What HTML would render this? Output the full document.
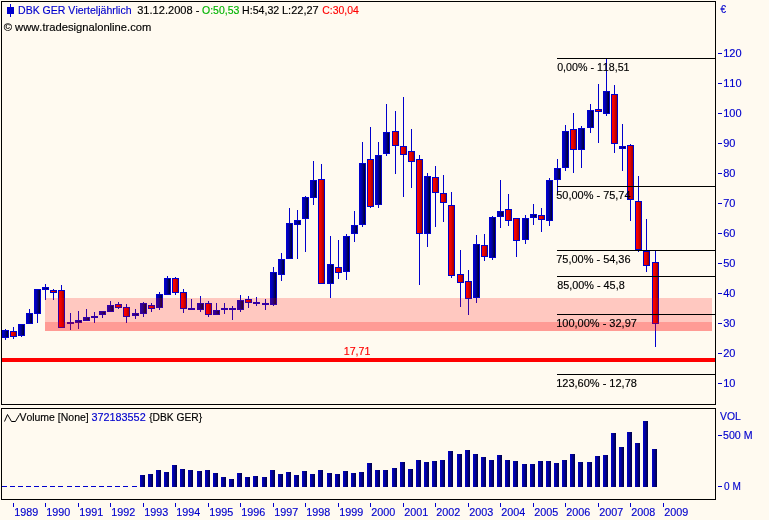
<!DOCTYPE html>
<html lang="de"><head><meta charset="utf-8"><title>DBK GER Vierteljährlich</title>
<style>html,body{margin:0;padding:0;background:#FFFAF0;}svg{display:block;}text{font-family:"Liberation Sans",Arial,sans-serif;font-size:11px;font-kerning:none;}</style>
</head><body>
<svg width="769" height="520" viewBox="0 0 769 520">
<defs>
<linearGradient id="gb" x1="0" x2="1" y1="0" y2="0"><stop offset="0" stop-color="#0000CC"/><stop offset="0.35" stop-color="#0000A8"/><stop offset="1" stop-color="#000028"/></linearGradient>
<linearGradient id="gr" x1="0" x2="1" y1="0" y2="0"><stop offset="0" stop-color="#FF0000"/><stop offset="0.4" stop-color="#EE0000"/><stop offset="1" stop-color="#990000"/></linearGradient>
<linearGradient id="gv" x1="0" x2="1" y1="0" y2="0"><stop offset="0" stop-color="#0000CC"/><stop offset="0.4" stop-color="#0000A0"/><stop offset="1" stop-color="#000040"/></linearGradient>
</defs>
<rect x="0" y="0" width="769" height="520" fill="#FFFAF0"/>
<g shape-rendering="crispEdges">
<rect x="5" y="329" width="1" height="11" fill="#0000CD"/>
<rect x="2" y="330" width="7" height="8" fill="#0000CD"/>
<rect x="3" y="331" width="5" height="6" fill="url(#gb)"/>
<rect x="13" y="327" width="1" height="12" fill="#0000CD"/>
<rect x="10" y="331" width="7" height="6" fill="#0000CD"/>
<rect x="11" y="332" width="5" height="4" fill="url(#gr)"/>
<rect x="21" y="324" width="1" height="13" fill="#0000CD"/>
<rect x="18" y="324" width="7" height="12" fill="#0000CD"/>
<rect x="19" y="325" width="5" height="10" fill="url(#gb)"/>
<rect x="29" y="309" width="1" height="15" fill="#0000CD"/>
<rect x="26" y="313" width="7" height="11" fill="#0000CD"/>
<rect x="27" y="314" width="5" height="9" fill="url(#gb)"/>
<rect x="37" y="289" width="1" height="34" fill="#0000CD"/>
<rect x="34" y="289" width="7" height="25" fill="#0000CD"/>
<rect x="35" y="290" width="5" height="23" fill="url(#gb)"/>
<rect x="45" y="284" width="1" height="16" fill="#0000CD"/>
<rect x="42" y="287" width="7" height="3" fill="#0000CD"/>
<rect x="43" y="288" width="5" height="1" fill="url(#gb)"/>
<rect x="53" y="289" width="1" height="11" fill="#0000CD"/>
<rect x="50" y="290" width="7" height="3" fill="#0000CD"/>
<rect x="51" y="291" width="5" height="1" fill="url(#gr)"/>
<rect x="61" y="285" width="1" height="43" fill="#0000CD"/>
<rect x="58" y="290" width="7" height="38" fill="#0000CD"/>
<rect x="59" y="291" width="5" height="36" fill="url(#gr)"/>
<rect x="70" y="313" width="1" height="17" fill="#0000CD"/>
<rect x="67" y="322" width="7" height="2" fill="#0000CD"/>
<rect x="78" y="311" width="1" height="18" fill="#0000CD"/>
<rect x="75" y="320" width="7" height="3" fill="#0000CD"/>
<rect x="76" y="321" width="5" height="1" fill="url(#gb)"/>
<rect x="86" y="309" width="1" height="12" fill="#0000CD"/>
<rect x="83" y="317" width="7" height="4" fill="#0000CD"/>
<rect x="84" y="318" width="5" height="2" fill="url(#gb)"/>
<rect x="94" y="312" width="1" height="11" fill="#0000CD"/>
<rect x="91" y="316" width="7" height="2" fill="#0000CD"/>
<rect x="102" y="311" width="1" height="7" fill="#0000CD"/>
<rect x="99" y="311" width="7" height="4" fill="#0000CD"/>
<rect x="100" y="312" width="5" height="2" fill="url(#gb)"/>
<rect x="110" y="301" width="1" height="11" fill="#0000CD"/>
<rect x="107" y="305" width="7" height="7" fill="#0000CD"/>
<rect x="108" y="306" width="5" height="5" fill="url(#gb)"/>
<rect x="118" y="302" width="1" height="7" fill="#0000CD"/>
<rect x="115" y="304" width="7" height="4" fill="#0000CD"/>
<rect x="116" y="305" width="5" height="2" fill="url(#gr)"/>
<rect x="126" y="304" width="1" height="19" fill="#0000CD"/>
<rect x="123" y="307" width="7" height="10" fill="#0000CD"/>
<rect x="124" y="308" width="5" height="8" fill="url(#gr)"/>
<rect x="135" y="309" width="1" height="10" fill="#0000CD"/>
<rect x="132" y="313" width="7" height="3" fill="#0000CD"/>
<rect x="133" y="314" width="5" height="1" fill="url(#gb)"/>
<rect x="143" y="302" width="1" height="15" fill="#0000CD"/>
<rect x="140" y="303" width="7" height="11" fill="#0000CD"/>
<rect x="141" y="304" width="5" height="9" fill="url(#gb)"/>
<rect x="151" y="303" width="1" height="9" fill="#0000CD"/>
<rect x="148" y="305" width="7" height="4" fill="#0000CD"/>
<rect x="149" y="306" width="5" height="2" fill="url(#gr)"/>
<rect x="159" y="292" width="1" height="18" fill="#0000CD"/>
<rect x="156" y="294" width="7" height="14" fill="#0000CD"/>
<rect x="157" y="295" width="5" height="12" fill="url(#gb)"/>
<rect x="167" y="276" width="1" height="19" fill="#0000CD"/>
<rect x="164" y="278" width="7" height="17" fill="#0000CD"/>
<rect x="165" y="279" width="5" height="15" fill="url(#gb)"/>
<rect x="175" y="277" width="1" height="18" fill="#0000CD"/>
<rect x="172" y="278" width="7" height="15" fill="#0000CD"/>
<rect x="173" y="279" width="5" height="13" fill="url(#gr)"/>
<rect x="183" y="289" width="1" height="24" fill="#0000CD"/>
<rect x="180" y="292" width="7" height="17" fill="#0000CD"/>
<rect x="181" y="293" width="5" height="15" fill="url(#gr)"/>
<rect x="191" y="299" width="1" height="11" fill="#0000CD"/>
<rect x="188" y="308" width="7" height="2" fill="#0000CD"/>
<rect x="200" y="296" width="1" height="16" fill="#0000CD"/>
<rect x="197" y="303" width="7" height="7" fill="#0000CD"/>
<rect x="198" y="304" width="5" height="5" fill="url(#gb)"/>
<rect x="208" y="301" width="1" height="16" fill="#0000CD"/>
<rect x="205" y="303" width="7" height="12" fill="#0000CD"/>
<rect x="206" y="304" width="5" height="10" fill="url(#gr)"/>
<rect x="216" y="303" width="1" height="12" fill="#0000CD"/>
<rect x="213" y="310" width="7" height="5" fill="#0000CD"/>
<rect x="214" y="311" width="5" height="3" fill="url(#gb)"/>
<rect x="224" y="303" width="1" height="11" fill="#0000CD"/>
<rect x="221" y="308" width="7" height="2" fill="#0000CD"/>
<rect x="232" y="306" width="1" height="14" fill="#0000CD"/>
<rect x="229" y="308" width="7" height="2" fill="#0000CD"/>
<rect x="240" y="295" width="1" height="17" fill="#0000CD"/>
<rect x="237" y="300" width="7" height="10" fill="#0000CD"/>
<rect x="238" y="301" width="5" height="8" fill="url(#gb)"/>
<rect x="248" y="296" width="1" height="12" fill="#0000CD"/>
<rect x="245" y="299" width="7" height="4" fill="#0000CD"/>
<rect x="246" y="300" width="5" height="2" fill="url(#gr)"/>
<rect x="256" y="297" width="1" height="9" fill="#0000CD"/>
<rect x="253" y="302" width="7" height="2" fill="#0000CD"/>
<rect x="265" y="299" width="1" height="11" fill="#0000CD"/>
<rect x="262" y="303" width="7" height="2" fill="#0000CD"/>
<rect x="273" y="267" width="1" height="39" fill="#0000CD"/>
<rect x="270" y="272" width="7" height="33" fill="#0000CD"/>
<rect x="271" y="273" width="5" height="31" fill="url(#gb)"/>
<rect x="281" y="253" width="1" height="28" fill="#0000CD"/>
<rect x="278" y="259" width="7" height="16" fill="#0000CD"/>
<rect x="279" y="260" width="5" height="14" fill="url(#gb)"/>
<rect x="289" y="208" width="1" height="51" fill="#0000CD"/>
<rect x="286" y="223" width="7" height="36" fill="#0000CD"/>
<rect x="287" y="224" width="5" height="34" fill="url(#gb)"/>
<rect x="297" y="210" width="1" height="49" fill="#0000CD"/>
<rect x="294" y="220" width="7" height="5" fill="#0000CD"/>
<rect x="295" y="221" width="5" height="3" fill="url(#gb)"/>
<rect x="305" y="196" width="1" height="56" fill="#0000CD"/>
<rect x="302" y="197" width="7" height="22" fill="#0000CD"/>
<rect x="303" y="198" width="5" height="20" fill="url(#gb)"/>
<rect x="313" y="161" width="1" height="44" fill="#0000CD"/>
<rect x="310" y="180" width="7" height="18" fill="#0000CD"/>
<rect x="311" y="181" width="5" height="16" fill="url(#gb)"/>
<rect x="321" y="164" width="1" height="120" fill="#0000CD"/>
<rect x="318" y="179" width="7" height="105" fill="#0000CD"/>
<rect x="319" y="180" width="5" height="103" fill="url(#gr)"/>
<rect x="330" y="236" width="1" height="62" fill="#0000CD"/>
<rect x="327" y="264" width="7" height="20" fill="#0000CD"/>
<rect x="328" y="265" width="5" height="18" fill="url(#gb)"/>
<rect x="338" y="240" width="1" height="39" fill="#0000CD"/>
<rect x="335" y="267" width="7" height="6" fill="#0000CD"/>
<rect x="336" y="268" width="5" height="4" fill="url(#gr)"/>
<rect x="346" y="234" width="1" height="46" fill="#0000CD"/>
<rect x="343" y="236" width="7" height="36" fill="#0000CD"/>
<rect x="344" y="237" width="5" height="34" fill="url(#gb)"/>
<rect x="354" y="211" width="1" height="31" fill="#0000CD"/>
<rect x="351" y="225" width="7" height="9" fill="#0000CD"/>
<rect x="352" y="226" width="5" height="7" fill="url(#gb)"/>
<rect x="362" y="142" width="1" height="85" fill="#0000CD"/>
<rect x="359" y="163" width="7" height="62" fill="#0000CD"/>
<rect x="360" y="164" width="5" height="60" fill="url(#gb)"/>
<rect x="370" y="127" width="1" height="81" fill="#0000CD"/>
<rect x="367" y="159" width="7" height="48" fill="#0000CD"/>
<rect x="368" y="160" width="5" height="46" fill="url(#gr)"/>
<rect x="378" y="142" width="1" height="66" fill="#0000CD"/>
<rect x="375" y="155" width="7" height="50" fill="#0000CD"/>
<rect x="376" y="156" width="5" height="48" fill="url(#gb)"/>
<rect x="386" y="104" width="1" height="52" fill="#0000CD"/>
<rect x="383" y="132" width="7" height="22" fill="#0000CD"/>
<rect x="384" y="133" width="5" height="20" fill="url(#gb)"/>
<rect x="395" y="111" width="1" height="63" fill="#0000CD"/>
<rect x="392" y="131" width="7" height="15" fill="#0000CD"/>
<rect x="393" y="132" width="5" height="13" fill="url(#gr)"/>
<rect x="403" y="97" width="1" height="100" fill="#0000CD"/>
<rect x="400" y="146" width="7" height="9" fill="#0000CD"/>
<rect x="401" y="147" width="5" height="7" fill="url(#gr)"/>
<rect x="411" y="129" width="1" height="59" fill="#0000CD"/>
<rect x="408" y="151" width="7" height="11" fill="#0000CD"/>
<rect x="409" y="152" width="5" height="9" fill="url(#gr)"/>
<rect x="419" y="155" width="1" height="130" fill="#0000CD"/>
<rect x="416" y="159" width="7" height="75" fill="#0000CD"/>
<rect x="417" y="160" width="5" height="73" fill="url(#gr)"/>
<rect x="427" y="173" width="1" height="74" fill="#0000CD"/>
<rect x="424" y="176" width="7" height="58" fill="#0000CD"/>
<rect x="425" y="177" width="5" height="56" fill="url(#gb)"/>
<rect x="435" y="166" width="1" height="61" fill="#0000CD"/>
<rect x="432" y="177" width="7" height="16" fill="#0000CD"/>
<rect x="433" y="178" width="5" height="14" fill="url(#gr)"/>
<rect x="443" y="175" width="1" height="47" fill="#0000CD"/>
<rect x="440" y="193" width="7" height="10" fill="#0000CD"/>
<rect x="441" y="194" width="5" height="8" fill="url(#gr)"/>
<rect x="451" y="192" width="1" height="86" fill="#0000CD"/>
<rect x="448" y="205" width="7" height="71" fill="#0000CD"/>
<rect x="449" y="206" width="5" height="69" fill="url(#gr)"/>
<rect x="460" y="250" width="1" height="57" fill="#0000CD"/>
<rect x="457" y="274" width="7" height="9" fill="#0000CD"/>
<rect x="458" y="275" width="5" height="7" fill="url(#gr)"/>
<rect x="468" y="270" width="1" height="45" fill="#0000CD"/>
<rect x="465" y="281" width="7" height="18" fill="#0000CD"/>
<rect x="466" y="282" width="5" height="16" fill="url(#gr)"/>
<rect x="476" y="235" width="1" height="68" fill="#0000CD"/>
<rect x="473" y="244" width="7" height="54" fill="#0000CD"/>
<rect x="474" y="245" width="5" height="52" fill="url(#gb)"/>
<rect x="484" y="234" width="1" height="27" fill="#0000CD"/>
<rect x="481" y="245" width="7" height="12" fill="#0000CD"/>
<rect x="482" y="246" width="5" height="10" fill="url(#gr)"/>
<rect x="492" y="216" width="1" height="44" fill="#0000CD"/>
<rect x="489" y="217" width="7" height="41" fill="#0000CD"/>
<rect x="490" y="218" width="5" height="39" fill="url(#gb)"/>
<rect x="500" y="180" width="1" height="48" fill="#0000CD"/>
<rect x="497" y="211" width="7" height="6" fill="#0000CD"/>
<rect x="498" y="212" width="5" height="4" fill="url(#gb)"/>
<rect x="508" y="194" width="1" height="32" fill="#0000CD"/>
<rect x="505" y="209" width="7" height="12" fill="#0000CD"/>
<rect x="506" y="210" width="5" height="10" fill="url(#gr)"/>
<rect x="516" y="218" width="1" height="39" fill="#0000CD"/>
<rect x="513" y="218" width="7" height="23" fill="#0000CD"/>
<rect x="514" y="219" width="5" height="21" fill="url(#gr)"/>
<rect x="525" y="215" width="1" height="29" fill="#0000CD"/>
<rect x="522" y="218" width="7" height="22" fill="#0000CD"/>
<rect x="523" y="219" width="5" height="20" fill="url(#gb)"/>
<rect x="533" y="204" width="1" height="21" fill="#0000CD"/>
<rect x="530" y="214" width="7" height="4" fill="#0000CD"/>
<rect x="531" y="215" width="5" height="2" fill="url(#gb)"/>
<rect x="541" y="208" width="1" height="24" fill="#0000CD"/>
<rect x="538" y="215" width="7" height="5" fill="#0000CD"/>
<rect x="539" y="216" width="5" height="3" fill="url(#gr)"/>
<rect x="549" y="178" width="1" height="48" fill="#0000CD"/>
<rect x="546" y="180" width="7" height="41" fill="#0000CD"/>
<rect x="547" y="181" width="5" height="39" fill="url(#gb)"/>
<rect x="557" y="159" width="1" height="34" fill="#0000CD"/>
<rect x="554" y="168" width="7" height="12" fill="#0000CD"/>
<rect x="555" y="169" width="5" height="10" fill="url(#gb)"/>
<rect x="565" y="125" width="1" height="46" fill="#0000CD"/>
<rect x="562" y="131" width="7" height="37" fill="#0000CD"/>
<rect x="563" y="132" width="5" height="35" fill="url(#gb)"/>
<rect x="573" y="113" width="1" height="60" fill="#0000CD"/>
<rect x="570" y="129" width="7" height="21" fill="#0000CD"/>
<rect x="571" y="130" width="5" height="19" fill="url(#gr)"/>
<rect x="581" y="126" width="1" height="42" fill="#0000CD"/>
<rect x="578" y="128" width="7" height="22" fill="#0000CD"/>
<rect x="579" y="129" width="5" height="20" fill="url(#gb)"/>
<rect x="590" y="104" width="1" height="29" fill="#0000CD"/>
<rect x="587" y="110" width="7" height="18" fill="#0000CD"/>
<rect x="588" y="111" width="5" height="16" fill="url(#gb)"/>
<rect x="598" y="84" width="1" height="59" fill="#0000CD"/>
<rect x="595" y="109" width="7" height="3" fill="#0000CD"/>
<rect x="596" y="110" width="5" height="1" fill="url(#gr)"/>
<rect x="606" y="59" width="1" height="57" fill="#0000CD"/>
<rect x="603" y="91" width="7" height="23" fill="#0000CD"/>
<rect x="604" y="92" width="5" height="21" fill="url(#gb)"/>
<rect x="614" y="85" width="1" height="68" fill="#0000CD"/>
<rect x="611" y="94" width="7" height="50" fill="#0000CD"/>
<rect x="612" y="95" width="5" height="48" fill="url(#gr)"/>
<rect x="622" y="124" width="1" height="47" fill="#0000CD"/>
<rect x="619" y="146" width="7" height="3" fill="#0000CD"/>
<rect x="620" y="147" width="5" height="1" fill="url(#gb)"/>
<rect x="630" y="144" width="1" height="77" fill="#0000CD"/>
<rect x="627" y="145" width="7" height="55" fill="#0000CD"/>
<rect x="628" y="146" width="5" height="53" fill="url(#gr)"/>
<rect x="638" y="176" width="1" height="76" fill="#0000CD"/>
<rect x="635" y="201" width="7" height="49" fill="#0000CD"/>
<rect x="636" y="202" width="5" height="47" fill="url(#gr)"/>
<rect x="646" y="219" width="1" height="53" fill="#0000CD"/>
<rect x="643" y="251" width="7" height="15" fill="#0000CD"/>
<rect x="644" y="252" width="5" height="13" fill="url(#gr)"/>
<rect x="655" y="251" width="1" height="96" fill="#0000CD"/>
<rect x="652" y="262" width="7" height="62" fill="#0000CD"/>
<rect x="653" y="263" width="5" height="60" fill="url(#gr)"/>
<rect x="45" y="298" width="667" height="24" fill="#FF0000" fill-opacity="0.2"/>
<rect x="45" y="322" width="667" height="9" fill="#FF0000" fill-opacity="0.38"/>
<rect x="557" y="58" width="158" height="1" fill="#000"/>
<rect x="557" y="186" width="158" height="1" fill="#000"/>
<rect x="557" y="250" width="158" height="1" fill="#000"/>
<rect x="557" y="276" width="158" height="1" fill="#000"/>
<rect x="557" y="314" width="158" height="1" fill="#000"/>
<rect x="557" y="374" width="158" height="1" fill="#000"/>
<rect x="2" y="358" width="714" height="4" fill="#FF0000"/>
<rect x="140" y="475" width="5" height="12" fill="url(#gv)"/>
<rect x="148" y="474" width="5" height="13" fill="url(#gv)"/>
<rect x="156" y="470" width="5" height="17" fill="url(#gv)"/>
<rect x="164" y="472" width="5" height="15" fill="url(#gv)"/>
<rect x="172" y="465" width="5" height="22" fill="url(#gv)"/>
<rect x="180" y="469" width="5" height="18" fill="url(#gv)"/>
<rect x="188" y="470" width="5" height="17" fill="url(#gv)"/>
<rect x="197" y="471" width="5" height="16" fill="url(#gv)"/>
<rect x="205" y="470" width="5" height="17" fill="url(#gv)"/>
<rect x="213" y="473" width="5" height="14" fill="url(#gv)"/>
<rect x="221" y="477" width="5" height="10" fill="url(#gv)"/>
<rect x="229" y="479" width="5" height="8" fill="url(#gv)"/>
<rect x="237" y="473" width="5" height="14" fill="url(#gv)"/>
<rect x="245" y="477" width="5" height="10" fill="url(#gv)"/>
<rect x="253" y="476" width="5" height="11" fill="url(#gv)"/>
<rect x="262" y="477" width="5" height="10" fill="url(#gv)"/>
<rect x="270" y="470" width="5" height="17" fill="url(#gv)"/>
<rect x="278" y="474" width="5" height="13" fill="url(#gv)"/>
<rect x="286" y="472" width="5" height="15" fill="url(#gv)"/>
<rect x="294" y="475" width="5" height="12" fill="url(#gv)"/>
<rect x="302" y="471" width="5" height="16" fill="url(#gv)"/>
<rect x="310" y="474" width="5" height="13" fill="url(#gv)"/>
<rect x="318" y="470" width="5" height="17" fill="url(#gv)"/>
<rect x="327" y="473" width="5" height="14" fill="url(#gv)"/>
<rect x="335" y="474" width="5" height="13" fill="url(#gv)"/>
<rect x="343" y="471" width="5" height="16" fill="url(#gv)"/>
<rect x="351" y="473" width="5" height="14" fill="url(#gv)"/>
<rect x="359" y="472" width="5" height="15" fill="url(#gv)"/>
<rect x="367" y="463" width="5" height="24" fill="url(#gv)"/>
<rect x="375" y="470" width="5" height="17" fill="url(#gv)"/>
<rect x="383" y="470" width="5" height="17" fill="url(#gv)"/>
<rect x="392" y="468" width="5" height="19" fill="url(#gv)"/>
<rect x="400" y="462" width="5" height="25" fill="url(#gv)"/>
<rect x="408" y="469" width="5" height="18" fill="url(#gv)"/>
<rect x="416" y="460" width="5" height="27" fill="url(#gv)"/>
<rect x="424" y="462" width="5" height="25" fill="url(#gv)"/>
<rect x="432" y="461" width="5" height="26" fill="url(#gv)"/>
<rect x="440" y="460" width="5" height="27" fill="url(#gv)"/>
<rect x="448" y="451" width="5" height="36" fill="url(#gv)"/>
<rect x="457" y="454" width="5" height="33" fill="url(#gv)"/>
<rect x="465" y="450" width="5" height="37" fill="url(#gv)"/>
<rect x="473" y="454" width="5" height="33" fill="url(#gv)"/>
<rect x="481" y="457" width="5" height="30" fill="url(#gv)"/>
<rect x="489" y="460" width="5" height="27" fill="url(#gv)"/>
<rect x="497" y="455" width="5" height="32" fill="url(#gv)"/>
<rect x="505" y="460" width="5" height="27" fill="url(#gv)"/>
<rect x="513" y="461" width="5" height="26" fill="url(#gv)"/>
<rect x="522" y="464" width="5" height="23" fill="url(#gv)"/>
<rect x="530" y="464" width="5" height="23" fill="url(#gv)"/>
<rect x="538" y="461" width="5" height="26" fill="url(#gv)"/>
<rect x="546" y="461" width="5" height="26" fill="url(#gv)"/>
<rect x="554" y="463" width="5" height="24" fill="url(#gv)"/>
<rect x="562" y="460" width="5" height="27" fill="url(#gv)"/>
<rect x="570" y="454" width="5" height="33" fill="url(#gv)"/>
<rect x="578" y="462" width="5" height="25" fill="url(#gv)"/>
<rect x="587" y="462" width="5" height="25" fill="url(#gv)"/>
<rect x="595" y="456" width="5" height="31" fill="url(#gv)"/>
<rect x="603" y="455" width="5" height="32" fill="url(#gv)"/>
<rect x="611" y="433" width="5" height="54" fill="url(#gv)"/>
<rect x="619" y="447" width="5" height="40" fill="url(#gv)"/>
<rect x="627" y="432" width="5" height="55" fill="url(#gv)"/>
<rect x="635" y="443" width="5" height="44" fill="url(#gv)"/>
<rect x="643" y="421" width="5" height="66" fill="url(#gv)"/>
<rect x="652" y="449" width="5" height="38" fill="url(#gv)"/>
<rect x="2" y="486" width="5" height="1" fill="#0000CD"/>
<rect x="10" y="486" width="5" height="1" fill="#0000CD"/>
<rect x="18" y="486" width="5" height="1" fill="#0000CD"/>
<rect x="26" y="486" width="5" height="1" fill="#0000CD"/>
<rect x="34" y="486" width="5" height="1" fill="#0000CD"/>
<rect x="42" y="486" width="5" height="1" fill="#0000CD"/>
<rect x="50" y="486" width="5" height="1" fill="#0000CD"/>
<rect x="58" y="486" width="5" height="1" fill="#0000CD"/>
<rect x="67" y="486" width="5" height="1" fill="#0000CD"/>
<rect x="75" y="486" width="5" height="1" fill="#0000CD"/>
<rect x="83" y="486" width="5" height="1" fill="#0000CD"/>
<rect x="91" y="486" width="5" height="1" fill="#0000CD"/>
<rect x="99" y="486" width="5" height="1" fill="#0000CD"/>
<rect x="107" y="486" width="5" height="1" fill="#0000CD"/>
<rect x="115" y="486" width="5" height="1" fill="#0000CD"/>
<rect x="123" y="486" width="5" height="1" fill="#0000CD"/>
<rect x="132" y="486" width="5" height="1" fill="#0000CD"/>
<rect x="1.5" y="1.5" width="714" height="403" fill="none" stroke="#000" stroke-width="1"/>
<rect x="1.5" y="408.5" width="714" height="91" fill="none" stroke="#000" stroke-width="1"/>
<rect x="718" y="383" width="4" height="1" fill="#0000CD"/>
<rect x="718" y="353" width="4" height="1" fill="#0000CD"/>
<rect x="718" y="323" width="4" height="1" fill="#0000CD"/>
<rect x="718" y="293" width="4" height="1" fill="#0000CD"/>
<rect x="718" y="263" width="4" height="1" fill="#0000CD"/>
<rect x="718" y="233" width="4" height="1" fill="#0000CD"/>
<rect x="718" y="203" width="4" height="1" fill="#0000CD"/>
<rect x="718" y="173" width="4" height="1" fill="#0000CD"/>
<rect x="718" y="143" width="4" height="1" fill="#0000CD"/>
<rect x="718" y="113" width="4" height="1" fill="#0000CD"/>
<rect x="718" y="83" width="4" height="1" fill="#0000CD"/>
<rect x="718" y="53" width="4" height="1" fill="#0000CD"/>
<rect x="718" y="435" width="4" height="1" fill="#0000CD"/>
<rect x="718" y="486" width="4" height="1" fill="#0000CD"/>
<rect x="13" y="503" width="1" height="4" fill="#0000CD"/>
<rect x="45" y="503" width="1" height="4" fill="#0000CD"/>
<rect x="78" y="503" width="1" height="4" fill="#0000CD"/>
<rect x="110" y="503" width="1" height="4" fill="#0000CD"/>
<rect x="143" y="503" width="1" height="4" fill="#0000CD"/>
<rect x="175" y="503" width="1" height="4" fill="#0000CD"/>
<rect x="208" y="503" width="1" height="4" fill="#0000CD"/>
<rect x="240" y="503" width="1" height="4" fill="#0000CD"/>
<rect x="273" y="503" width="1" height="4" fill="#0000CD"/>
<rect x="305" y="503" width="1" height="4" fill="#0000CD"/>
<rect x="338" y="503" width="1" height="4" fill="#0000CD"/>
<rect x="370" y="503" width="1" height="4" fill="#0000CD"/>
<rect x="403" y="503" width="1" height="4" fill="#0000CD"/>
<rect x="435" y="503" width="1" height="4" fill="#0000CD"/>
<rect x="468" y="503" width="1" height="4" fill="#0000CD"/>
<rect x="500" y="503" width="1" height="4" fill="#0000CD"/>
<rect x="533" y="503" width="1" height="4" fill="#0000CD"/>
<rect x="565" y="503" width="1" height="4" fill="#0000CD"/>
<rect x="598" y="503" width="1" height="4" fill="#0000CD"/>
<rect x="630" y="503" width="1" height="4" fill="#0000CD"/>
<rect x="663" y="503" width="1" height="4" fill="#0000CD"/>
<rect x="10" y="4" width="1" height="13" fill="#0000CD"/>
<rect x="7" y="7" width="7" height="7" fill="#0000CD"/>
</g>
<polyline points="4.5,421.5 7.5,414.5 11.5,421.5 15.5,421.5 19.5,414.5" fill="none" stroke="#000" stroke-width="1"/>
<text x="18.04" y="14" fill="#0000CD" stroke="#0000CD" stroke-width="0.15" textLength="113.54" lengthAdjust="spacingAndGlyphs">DBK GER Vierteljährlich</text>
<text x="137.20" y="14" fill="#000" stroke="#000" stroke-width="0.15" textLength="62.20" lengthAdjust="spacingAndGlyphs">31.12.2008 -</text>
<text x="202.00" y="14" fill="#00B400" stroke="#00B400" stroke-width="0.15" textLength="37.30" lengthAdjust="spacingAndGlyphs">O:50,53</text>
<text x="242.03" y="14" fill="#000" stroke="#000" stroke-width="0.15" textLength="37.25" lengthAdjust="spacingAndGlyphs">H:54,32</text>
<text x="282.00" y="14" fill="#000" stroke="#000" stroke-width="0.15" textLength="36.70" lengthAdjust="spacingAndGlyphs">L:22,27</text>
<text x="322.20" y="14" fill="#FF0000" stroke="#FF0000" stroke-width="0.15" textLength="36.58" lengthAdjust="spacingAndGlyphs">C:30,04</text>
<text x="3.70" y="30.5" fill="#000" stroke="#000" stroke-width="0.15" textLength="147.61" lengthAdjust="spacingAndGlyphs">© www.tradesignalonline.com</text>
<text x="720.50" y="12.5" fill="#0000CD" stroke="#0000CD" stroke-width="0.15" textLength="5.59" lengthAdjust="spacingAndGlyphs">€</text>
<text x="723.2" y="387" fill="#0000CD" stroke="#0000CD" stroke-width="0.15">10</text>
<text x="723.2" y="357" fill="#0000CD" stroke="#0000CD" stroke-width="0.15">20</text>
<text x="723.2" y="327" fill="#0000CD" stroke="#0000CD" stroke-width="0.15">30</text>
<text x="723.2" y="297" fill="#0000CD" stroke="#0000CD" stroke-width="0.15">40</text>
<text x="723.2" y="267" fill="#0000CD" stroke="#0000CD" stroke-width="0.15">50</text>
<text x="723.2" y="237" fill="#0000CD" stroke="#0000CD" stroke-width="0.15">60</text>
<text x="723.2" y="207" fill="#0000CD" stroke="#0000CD" stroke-width="0.15">70</text>
<text x="723.2" y="177" fill="#0000CD" stroke="#0000CD" stroke-width="0.15">80</text>
<text x="723.2" y="147" fill="#0000CD" stroke="#0000CD" stroke-width="0.15">90</text>
<text x="723.2" y="117" fill="#0000CD" stroke="#0000CD" stroke-width="0.15">100</text>
<text x="723.2" y="87" fill="#0000CD" stroke="#0000CD" stroke-width="0.15">110</text>
<text x="723.2" y="57" fill="#0000CD" stroke="#0000CD" stroke-width="0.15">120</text>
<text x="720.00" y="420" fill="#0000CD" stroke="#0000CD" stroke-width="0.15" textLength="20.75" lengthAdjust="spacingAndGlyphs">VOL</text>
<text x="723.03" y="439" fill="#0000CD" stroke="#0000CD" stroke-width="0.15" textLength="29.54" lengthAdjust="spacingAndGlyphs">500 M</text>
<text x="724.00" y="490" fill="#0000CD" stroke="#0000CD" stroke-width="0.15" textLength="16.77" lengthAdjust="spacingAndGlyphs">0 M</text>
<text x="14.3" y="516" fill="#0000CD" stroke="#0000CD" stroke-width="0.15" textLength="24" lengthAdjust="spacingAndGlyphs">1989</text>
<text x="46.3" y="516" fill="#0000CD" stroke="#0000CD" stroke-width="0.15" textLength="24" lengthAdjust="spacingAndGlyphs">1990</text>
<text x="79.3" y="516" fill="#0000CD" stroke="#0000CD" stroke-width="0.15" textLength="24" lengthAdjust="spacingAndGlyphs">1991</text>
<text x="111.3" y="516" fill="#0000CD" stroke="#0000CD" stroke-width="0.15" textLength="24" lengthAdjust="spacingAndGlyphs">1992</text>
<text x="144.3" y="516" fill="#0000CD" stroke="#0000CD" stroke-width="0.15" textLength="24" lengthAdjust="spacingAndGlyphs">1993</text>
<text x="176.3" y="516" fill="#0000CD" stroke="#0000CD" stroke-width="0.15" textLength="24" lengthAdjust="spacingAndGlyphs">1994</text>
<text x="209.3" y="516" fill="#0000CD" stroke="#0000CD" stroke-width="0.15" textLength="24" lengthAdjust="spacingAndGlyphs">1995</text>
<text x="241.3" y="516" fill="#0000CD" stroke="#0000CD" stroke-width="0.15" textLength="24" lengthAdjust="spacingAndGlyphs">1996</text>
<text x="274.3" y="516" fill="#0000CD" stroke="#0000CD" stroke-width="0.15" textLength="24" lengthAdjust="spacingAndGlyphs">1997</text>
<text x="306.3" y="516" fill="#0000CD" stroke="#0000CD" stroke-width="0.15" textLength="24" lengthAdjust="spacingAndGlyphs">1998</text>
<text x="339.3" y="516" fill="#0000CD" stroke="#0000CD" stroke-width="0.15" textLength="24" lengthAdjust="spacingAndGlyphs">1999</text>
<text x="371.3" y="516" fill="#0000CD" stroke="#0000CD" stroke-width="0.15" textLength="24" lengthAdjust="spacingAndGlyphs">2000</text>
<text x="404.3" y="516" fill="#0000CD" stroke="#0000CD" stroke-width="0.15" textLength="24" lengthAdjust="spacingAndGlyphs">2001</text>
<text x="436.3" y="516" fill="#0000CD" stroke="#0000CD" stroke-width="0.15" textLength="24" lengthAdjust="spacingAndGlyphs">2002</text>
<text x="469.3" y="516" fill="#0000CD" stroke="#0000CD" stroke-width="0.15" textLength="24" lengthAdjust="spacingAndGlyphs">2003</text>
<text x="501.3" y="516" fill="#0000CD" stroke="#0000CD" stroke-width="0.15" textLength="24" lengthAdjust="spacingAndGlyphs">2004</text>
<text x="534.3" y="516" fill="#0000CD" stroke="#0000CD" stroke-width="0.15" textLength="24" lengthAdjust="spacingAndGlyphs">2005</text>
<text x="566.3" y="516" fill="#0000CD" stroke="#0000CD" stroke-width="0.15" textLength="24" lengthAdjust="spacingAndGlyphs">2006</text>
<text x="599.3" y="516" fill="#0000CD" stroke="#0000CD" stroke-width="0.15" textLength="24" lengthAdjust="spacingAndGlyphs">2007</text>
<text x="631.3" y="516" fill="#0000CD" stroke="#0000CD" stroke-width="0.15" textLength="24" lengthAdjust="spacingAndGlyphs">2008</text>
<text x="664.3" y="516" fill="#0000CD" stroke="#0000CD" stroke-width="0.15" textLength="24" lengthAdjust="spacingAndGlyphs">2009</text>
<text x="557.20" y="71" fill="#000" stroke="#000" stroke-width="0.15" textLength="72.38" lengthAdjust="spacingAndGlyphs">0,00% - 118,51</text>
<text x="556.20" y="199" fill="#000" stroke="#000" stroke-width="0.15" textLength="74.40" lengthAdjust="spacingAndGlyphs">50,00% - 75,74</text>
<text x="556.20" y="263" fill="#000" stroke="#000" stroke-width="0.15" textLength="74.40" lengthAdjust="spacingAndGlyphs">75,00% - 54,36</text>
<text x="557.20" y="289" fill="#000" stroke="#000" stroke-width="0.15" textLength="67.49" lengthAdjust="spacingAndGlyphs">85,00% - 45,8</text>
<text x="556.20" y="327" fill="#000" stroke="#000" stroke-width="0.15" textLength="80.70" lengthAdjust="spacingAndGlyphs">100,00% - 32,97</text>
<text x="556.20" y="387" fill="#000" stroke="#000" stroke-width="0.15" textLength="80.70" lengthAdjust="spacingAndGlyphs">123,60% - 12,78</text>
<text x="343.73" y="355" fill="#FF0000" stroke="#FF0000" stroke-width="0.15" textLength="26.76" lengthAdjust="spacingAndGlyphs">17,71</text>
<text x="19.40" y="421" fill="#000" stroke="#000" stroke-width="0.15" textLength="69.35" lengthAdjust="spacingAndGlyphs">Volume [None]</text>
<text x="91.41" y="421" fill="#0000CD" stroke="#0000CD" stroke-width="0.15" textLength="54.28" lengthAdjust="spacingAndGlyphs">372183552</text>
<text x="149.20" y="421" fill="#000" stroke="#000" stroke-width="0.15" textLength="52.99" lengthAdjust="spacingAndGlyphs">{DBK GER}</text>
</svg></body></html>
